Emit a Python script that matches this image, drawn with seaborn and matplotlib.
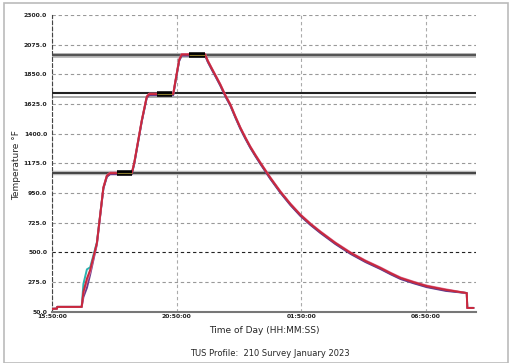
import matplotlib
matplotlib.use("Agg")
import matplotlib.pyplot as plt
from matplotlib import font_manager
import seaborn as sns
import pandas as pd
from matplotlib.ticker import FixedLocator, MultipleLocator

# hours after 15:50:00
time_h = [0.0, 0.2, 0.21, 1.19, 1.26, 1.4, 1.53, 1.8, 2.06, 2.2, 2.33, 2.6, 3.2,
          3.3, 3.6, 3.8, 3.9, 4.2, 4.86, 4.95, 5.1, 5.2, 5.5, 6.14, 6.25, 6.43,
          6.6, 6.75, 6.95, 7.15, 7.35, 7.55, 7.75, 7.95, 8.15, 8.35, 8.75, 9.16,
          9.56, 9.96, 10.36, 10.76, 11.36, 11.97, 12.57, 13.17, 13.58, 13.98,
          14.5, 15.02, 15.8, 16.63, 16.65, 16.9]
tc_red = [70, 72, 85, 85, 200, 300, 365, 570, 990, 1080, 1100, 1100, 1100,
          1180, 1500, 1680, 1700, 1700, 1700, 1800, 1960, 2000, 2000, 2000, 1950,
          1885, 1825, 1771, 1690, 1620, 1530, 1445, 1370, 1300, 1238, 1179, 1065,
          958, 865, 783, 715, 654, 570, 495, 433, 380, 340, 304,
          272, 243, 214, 190, 77, 77]
offs_purple = -8
offs_teal = -4
offs_pink = 4
bump_purple = [0, 0, 0, 0, -40, -70, -35, -10]
bump_teal = [0, 0, 0, 0, 60, 70, 20, 5]
bump_pink = [0, 0, 0, 0, -10, -20, -15, -5]

ref_levels = [2000, 1705, 1680, 1100]
soak_start = [2.61, 4.2, 5.5]
soak_end = [3.2, 4.8, 6.14]
soak_level = [1100, 1700, 2000]

y_ticks = [50, 275, 500, 725, 950, 1175, 1400, 1625, 1850, 2075, 2300]
x_major = [0, 5, 10, 15]
x_labels = ["15:50:00", "20:50:00", "01:50:00", "06:50:00"]


def series(offset, bump):
    out = []
    for i, v in enumerate(tc_red):
        b = bump[i] if i < len(bump) else 0
        o = offset if 8 <= i < len(tc_red) - 3 else 0
        out.append(v + b + o)
    return out


df = pd.concat([
    pd.DataFrame({"t": time_h, "T": series(offs_teal, bump_teal), "tc": "teal"}),
    pd.DataFrame({"t": time_h, "T": series(offs_purple, bump_purple), "tc": "purple"}),
    pd.DataFrame({"t": time_h, "T": series(offs_pink, bump_pink), "tc": "pink"}),
    pd.DataFrame({"t": time_h, "T": tc_red, "tc": "red"}),
])
palette = {"teal": "#2bb3b0", "purple": "#6a3c8c", "pink": "#e07098", "red": "#c8283c"}

sns.set_style("white")
names = {f.name for f in font_manager.fontManager.ttflist}
tick_font = "Liberation Sans Narrow" if "Liberation Sans Narrow" in names else "DejaVu Sans"
tick_size = 5.0 if tick_font == "Liberation Sans Narrow" else 4.4

fig = plt.figure(figsize=(5.14, 3.63), dpi=100)
ax = fig.add_axes([52/514, 1-311.5/363, (476-52)/514, (311.5-15)/363])

# grid
for yv in y_ticks[1:]:
    ax.axhline(yv, color="#222222" if yv == 500 else "#999999", lw=0.8,
               ls=(0, (3, 2.5)), zorder=0)
for xv in x_major:
    ax.axvline(xv, color="#555555" if xv == 0 else "#aaaaaa", lw=0.8,
               ls=(0, (3, 2.5)), zorder=0)

# reference lines
ax.axhline(ref_levels[0], color="#bbbbbb", lw=3.5, zorder=1)
ax.axhline(ref_levels[0], color="#555555", lw=1.6, zorder=1)
ax.axhline(ref_levels[1], color="#222222", lw=1.5, zorder=1)
ax.axhline(ref_levels[2], color="#999999", lw=1.2, zorder=1)
ax.axhline(ref_levels[3], color="#bbbbbb", lw=3.2, zorder=1)
ax.axhline(ref_levels[3], color="#444444", lw=1.4, zorder=1)

sns.lineplot(data=df, x="t", y="T", hue="tc", palette=palette, ax=ax,
             legend=False, lw=1.4, estimator=None, sort=False, zorder=3)

for s, e, lv in zip(soak_start, soak_end, soak_level):
    ax.plot([s, e], [lv, lv], color="black", lw=4.0, solid_capstyle="butt", zorder=4)
    ax.plot([s, e], [lv, lv], color="#8a7a30", lw=0.8, solid_capstyle="butt", zorder=5)

ax.set_xlim(0, 17)
ax.set_ylim(50, 2300)
ax.yaxis.set_major_locator(FixedLocator(y_ticks))
ax.set_yticklabels([f"{v:.1f}" for v in y_ticks], fontsize=tick_size,
                   color="#222222", family=tick_font, fontweight="bold")
ax.xaxis.set_major_locator(FixedLocator(x_major))
ax.xaxis.set_minor_locator(MultipleLocator(1))
ax.set_xticklabels(x_labels, fontsize=tick_size, color="#222222", family=tick_font,
                   fontweight="bold")
ax.tick_params(axis="x", which="both", direction="in", length=3, color="#777777", pad=2)
ax.tick_params(axis="y", direction="out", length=2.5, color="#555555", pad=1)

for side in ["top", "right"]:
    ax.spines[side].set_visible(False)
ax.spines["left"].set_linestyle((0, (3, 2.5)))
ax.spines["left"].set_color("#444444")
ax.spines["left"].set_linewidth(0.8)
ax.spines["bottom"].set_color("#777777")
ax.spines["bottom"].set_linewidth(1.5)

ax.set_xlabel("Time of Day (HH:MM:SS)", fontsize=6.5, labelpad=5)
ax.set_ylabel("")
fig.text(17/514, 1-165/363, "Temperature °F", rotation=90, ha="center",
         va="center", fontsize=6.5)
fig.text(270/514, 1-353/363, "TUS Profile:  210 Survey January 2023",
         ha="center", va="center", fontsize=6)

# figure frame
fig.add_artist(plt.Rectangle((4/514, 0), (508-4)/514, 1-3/363, transform=fig.transFigure,
                             fill=False, edgecolor="#bbbbbb", lw=1.2))

fig.savefig("out.png", dpi=100)
